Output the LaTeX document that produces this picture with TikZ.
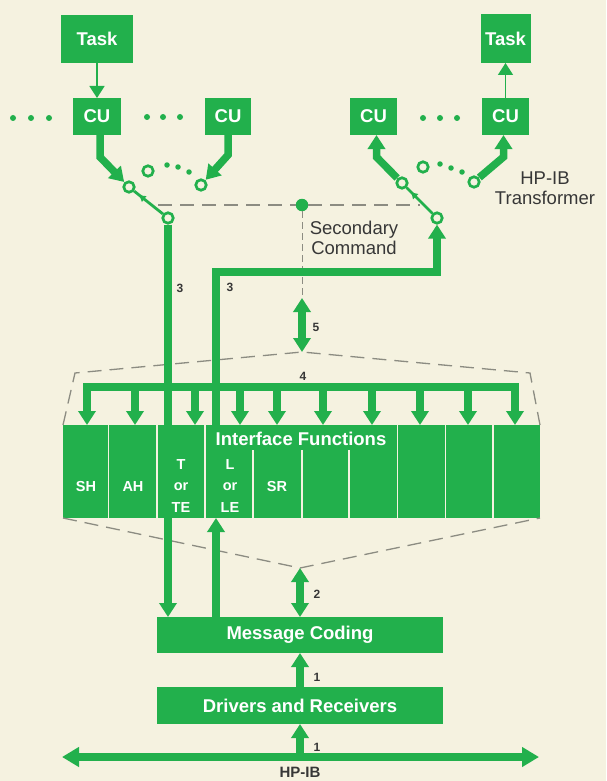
\documentclass[tikz,border=0pt]{standalone}
\usepackage{fontspec}
\setmainfont{Liberation Sans}
\usetikzlibrary{arrows.meta,calc,decorations.markings}
\definecolor{hpgreen}{RGB}{34,176,76}
\definecolor{bgc}{RGB}{245,242,224}
\definecolor{txt}{RGB}{55,55,55}
\definecolor{dashc}{RGB}{140,140,130}
\newcommand\fbig{\bfseries\fontsize{18.5}{20}\selectfont}
\newcommand\fmid{\fontsize{18.5}{20}\selectfont}
\newcommand\fsmall{\bfseries\fontsize{14.5}{21.5}\selectfont}
\newcommand\fnum{\bfseries\fontsize{12}{14}\selectfont}
\tikzset{
  bigtip/.tip={Triangle[width=17pt,length=14pt]},
  bustip/.tip={Triangle[width=19pt,length=17pt]},
  thintip/.tip={Triangle[width=15pt,length=12pt]},
}
\begin{document}
\begin{tikzpicture}[x=1pt,y=-1pt,
  gbox/.style={fill=hpgreen, text=white, font=\fbig, inner sep=0pt, outer sep=0pt},
  fatline/.style={draw=hpgreen, line width=7.5pt},
  thinarrow/.style={draw=hpgreen, line width=1.6pt, -thintip},
  swc/.style={circle, draw=hpgreen, line width=2.7pt, fill=bgc, minimum size=10.5pt, inner sep=0pt},
  armline/.style={draw=hpgreen, line width=2.8pt, postaction={decorate, decoration={markings, mark=at position #1 with {\arrow{Triangle[width=7pt,length=6pt,reversed]}}}}},
  dotn/.style={circle, fill=hpgreen, minimum size=6pt, inner sep=0pt},
  gdash/.style={draw=dashc, line width=1.3pt, dash pattern=on 14pt off 8pt},
  sdash/.style={draw=dashc, line width=1pt, dash pattern=on 7pt off 4pt},
  wlab/.style={text=white, font=\fsmall, align=center, inner sep=0pt},
  num/.style={text=txt, font=\fnum, inner sep=0pt},
  dtext/.style={text=txt, font=\fmid, align=center, inner sep=0pt},
  sepl/.style={draw=bgc, line width=1.8pt},
]
\fill[bgc] (0,0) rectangle (606,781);
\useasboundingbox (0,0) rectangle (606,781);

% ---- top boxes
\node[gbox, minimum width=72pt, minimum height=48pt] (taskL) at (97,39) {Task};
\node[gbox, minimum width=48pt, minimum height=37pt] (cuL1) at (97,116.5) {CU};
\node[gbox, minimum width=46pt, minimum height=37pt] (cuL2) at (228,116.5) {CU};
\node[gbox, minimum width=47pt, minimum height=37pt] (cuR1) at (373.5,116.5) {CU};
\node[gbox, minimum width=47pt, minimum height=37pt] (cuR2) at (505.5,116.5) {CU};
\node[gbox, minimum width=50pt, minimum height=49pt] (taskR) at (505.5,38.5) {Task};

\draw[thinarrow] (taskL.south) -- (cuL1.north);
\draw[thinarrow] (cuR2.north) -- (taskR.south);

% ellipsis dots
\node[dotn] (e1) at (13,118) {};
\node[dotn] (e2) at (31,118) {};
\node[dotn] (e3) at (49,118) {};
\node[dotn] (e4) at (147,117) {};
\node[dotn] (e5) at (163,117) {};
\node[dotn] (e6) at (180,117) {};
\node[dotn] (e7) at (423,118) {};
\node[dotn] (e8) at (440,118) {};
\node[dotn] (e9) at (457,118) {};

% ---- switches
\node[swc] (pL) at (129,187) {};
\node[swc] (oL) at (148,171) {};
\node[swc] (cL) at (201,185) {};
\node[swc] (qL) at (168,218) {};
\node[dotn, minimum size=5.5pt] (sd1) at (167,165) {};
\node[dotn, minimum size=5.5pt] (sd2) at (178,167) {};
\node[dotn, minimum size=5.5pt] (sd3) at (189,172) {};

\node[swc] (pR) at (402,183) {};
\node[swc] (oR) at (423,167) {};
\node[swc] (cR) at (474,182) {};
\node[swc] (qR) at (437,218) {};
\node[dotn, minimum size=5.5pt] (sd4) at (440,164) {};
\node[dotn, minimum size=5.5pt] (sd5) at (451,168) {};
\node[dotn, minimum size=5.5pt] (sd6) at (462,172) {};

\draw[armline=0.35] (pL) -- (qL);
\draw[armline=0.35] (pR) -- (qR);

\draw[fatline,-bigtip,shorten >=7pt] ([xshift=3pt]cuL1.south) -- ++(0,22) -- (pL.center);
\draw[fatline,-bigtip,shorten >=7pt] (cuL2.south) -- ++(0,20) -- (cL.center);
\draw[fatline,-bigtip,shorten <=7pt] (pR.center) -- ($(cuR1.south)+(3,22)$) -- ([xshift=3pt]cuR1.south);
\draw[fatline,-bigtip,shorten <=7pt] (cR.center) -- ($(cuR2.south)+(-2,22)$) -- ([xshift=-2pt]cuR2.south);

% ---- secondary command
\node[circle, fill=hpgreen, minimum size=12.5pt, inner sep=0pt] (sec) at (302,205) {};
\draw[gdash] (158,205) -- (sec);
\draw[gdash] (sec) -- (420,205);
\coordinate (top5) at (302,298);
\coordinate (apex5) at (302,352);
\draw[sdash] (sec) -- (top5);
\draw[fatline,bigtip-bigtip] (top5) -- (apex5);
\node[dtext, anchor=center] (sectext) at (354,238) {Secondary\\Command};
\node[dtext] (hptr) at (545,188) {HP-IB\\Transformer};

% ---- interface function block
\node[fill=hpgreen, minimum width=477pt, minimum height=93pt, inner sep=0pt, outer sep=0pt] (ifb) at (301.5,471.5) {};
\foreach \x in {108.5,157,205,397.5,445.5,493} \draw[sepl] (\x,425) -- (\x,518);
\foreach \x in {253,302,349} \draw[sepl] (\x,450) -- (\x,518);

% upper fan
\draw[gdash] (ifb.north west) -- (75,373) -- (apex5) -- (530,373) -- (ifb.north east);
% bus 4
\draw[fatline] (83.25,387) -- (518.75,387);
\foreach \x in {87,135,195,240,277,323,372,420,468,515}
  \draw[fatline,-bigtip] (\x,387) -- (\x,425);
\node[num] (n4) at (303,376) {4};

% lines 3
\coordinate (lturn) at (216,272);
\coordinate (rturn) at (437,272);
\draw[fatline] (qL) -- (qL |- ifb.north);
\draw[fatline,-bigtip] (ifb.north -| lturn) -- (lturn) -- (rturn) -- (qR);
\node[num] (n3a) at (180,288) {3};
\node[num] (n3b) at (230,287) {3};
\node[num] (n5) at (316,327) {5};

% labels in block
\node[text=white, font=\fbig, inner sep=0pt] (iftitle) at (301,439) {Interface Functions};
\node[wlab] (lsh) at (86,487) {SH};
\node[wlab] (lah) at (133,487) {AH};
\node[wlab] (lt) at (181,486) {T\\or\\TE};
\node[wlab] (ll) at (230,486) {L\\or\\LE};
\node[wlab] (lsr) at (277,487) {SR};

% ---- lower part
\node[gbox, minimum width=286pt, minimum height=36pt] (mc) at (300,635) {Message Coding};
\node[gbox, minimum width=286pt, minimum height=37pt] (dr) at (300,705.5) {Drivers and Receivers};
\coordinate (apex2) at (300,568);
\draw[gdash] (ifb.south west) -- (apex2) -- (ifb.south east);
\draw[fatline,bigtip-bigtip] (apex2) -- (mc.north);
\node[num] (n2) at (317,594) {2};
\draw[fatline,-bigtip] (ifb.south -| qL) -- (mc.north -| qL);
\draw[fatline,-bigtip] (mc.north -| lturn) -- (ifb.south -| lturn);
\draw[fatline,-bigtip] (dr.north) -- (mc.south);
\node[num] (n1a) at (317,677) {1};

\coordinate (busL) at (62,757);
\coordinate (busR) at (539,757);
\coordinate (busM) at (300,757);
\draw[fatline,bustip-bustip] (busL) -- (busR);
\draw[fatline,-bigtip] (busM) -- (dr.south);
\node[num] (n1b) at (317,747) {1};
\node[text=txt, font=\bfseries\fontsize{15}{17}\selectfont, inner sep=0pt] (hpib) at (300,772) {HP-IB};
\end{tikzpicture}
\end{document}
